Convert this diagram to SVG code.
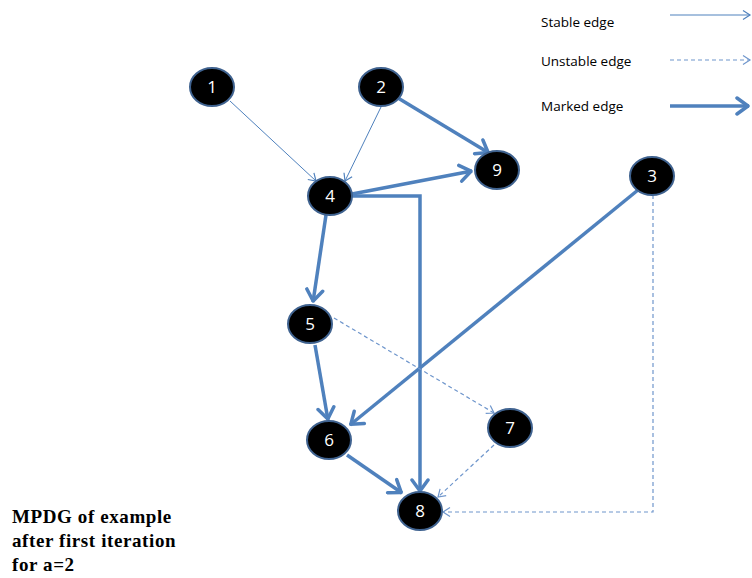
<svg xmlns="http://www.w3.org/2000/svg" width="752" height="578" viewBox="0 0 752 578">
<style>
.thin{stroke:#4F81BD;stroke-width:1;fill:none}
.dash{stroke:#6F96CC;stroke-width:1.2;fill:none;stroke-dasharray:4 3}
.thick{stroke:#4F81BD;stroke-width:3.5;fill:none}
.node ellipse{fill:#000;stroke:#3F628F;stroke-width:2}
.node text{fill:#fff;font-family:"Open Sans","Liberation Sans",sans-serif;font-size:17px;text-anchor:middle}
.leg{font-family:"Open Sans","Liberation Sans",sans-serif;font-size:13.5px;fill:#000}
.cap{font-family:"Liberation Serif",serif;font-weight:bold;font-size:19px;letter-spacing:0.6px;fill:#000}
</style>
<defs>
<marker id="aThin" viewBox="-10 -6 12 12" markerWidth="12" markerHeight="12" refX="0" refY="0" orient="auto" markerUnits="userSpaceOnUse">
<path d="M-7,-4.5 L0,0 L-7,4.5" fill="none" stroke="#4F81BD" stroke-width="1.2"/>
</marker>
<marker id="aDash" viewBox="-10 -6 12 12" markerWidth="12" markerHeight="12" refX="0" refY="0" orient="auto" markerUnits="userSpaceOnUse">
<path d="M-7,-4.5 L0,0 L-7,4.5" fill="none" stroke="#6F96CC" stroke-width="1.2"/>
</marker>
<marker id="aThick" viewBox="-16 -10 18 20" markerWidth="18" markerHeight="20" refX="0" refY="0" orient="auto" markerUnits="userSpaceOnUse">
<path d="M-12,-8 L-1,0 L-12,8" fill="none" stroke="#4F81BD" stroke-width="3.5" stroke-linecap="round" stroke-linejoin="round"/>
</marker>
</defs>

<g id="legend">
<text class="leg" x="541" y="27">Stable edge</text>
<line class="thin" x1="670" y1="15" x2="750" y2="15" marker-end="url(#aThin)"/>
<text class="leg" x="541" y="66">Unstable  edge</text>
<line class="dash" x1="670" y1="60" x2="750" y2="60" marker-end="url(#aDash)"/>
<text class="leg" x="541" y="111">Marked edge</text>
<line class="thick" x1="670" y1="106" x2="749" y2="106" marker-end="url(#aThick)"/>
</g>

<g id="connectors">
<line class="thin" x1="230" y1="101" x2="316" y2="181" marker-end="url(#aThin)"/>
<line class="thin" x1="381" y1="107" x2="345" y2="181" marker-end="url(#aThin)"/>
<line class="thick" x1="398" y1="98" x2="489" y2="153" marker-end="url(#aThick)"/>
<line class="thick" x1="352" y1="194" x2="472" y2="171" marker-end="url(#aThick)"/>
<polyline class="thick" points="352,196 420,196 420,492" marker-end="url(#aThick)"/>
<line class="thick" x1="326" y1="215" x2="313" y2="302" marker-end="url(#aThick)"/>
<line class="thick" x1="315" y1="345" x2="328" y2="420" marker-end="url(#aThick)"/>
<line class="thick" x1="638" y1="190" x2="350" y2="425" marker-end="url(#aThick)"/>
<line class="thick" x1="347" y1="455" x2="402" y2="493" marker-end="url(#aThick)"/>
<line class="dash" x1="334" y1="318" x2="494" y2="413" marker-end="url(#aDash)"/>
<line class="dash" x1="494" y1="445" x2="438" y2="497" marker-end="url(#aDash)"/>
<polyline class="dash" points="653,195 653,512 443,512" marker-end="url(#aDash)"/>
</g>

<g id="n1" class="node"><ellipse cx="212" cy="87" rx="22" ry="19"/><text x="212" y="93">1</text></g>
<g id="n2" class="node"><ellipse cx="381" cy="87" rx="22" ry="19"/><text x="381" y="93">2</text></g>
<g id="n9" class="node"><ellipse cx="497" cy="170" rx="22" ry="19"/><text x="497" y="176">9</text></g>
<g id="n4" class="node"><ellipse cx="330" cy="196" rx="22" ry="19"/><text x="330" y="202">4</text></g>
<g id="n3" class="node"><ellipse cx="652" cy="176" rx="22" ry="19"/><text x="652" y="182">3</text></g>
<g id="n5" class="node"><ellipse cx="310" cy="324" rx="22" ry="19"/><text x="310" y="330">5</text></g>
<g id="n7" class="node"><ellipse cx="510" cy="428" rx="22" ry="19"/><text x="510" y="434">7</text></g>
<g id="n6" class="node"><ellipse cx="329" cy="440" rx="22" ry="19"/><text x="329" y="446">6</text></g>
<g id="n8" class="node"><ellipse cx="420" cy="511" rx="22" ry="19"/><text x="420" y="517">8</text></g>

<g id="caption">
<text class="cap" x="12" y="523">MPDG of example</text>
<text class="cap" x="12" y="547">after first iteration</text>
<text class="cap" x="12" y="571">for a=2</text>
</g>
</svg>
